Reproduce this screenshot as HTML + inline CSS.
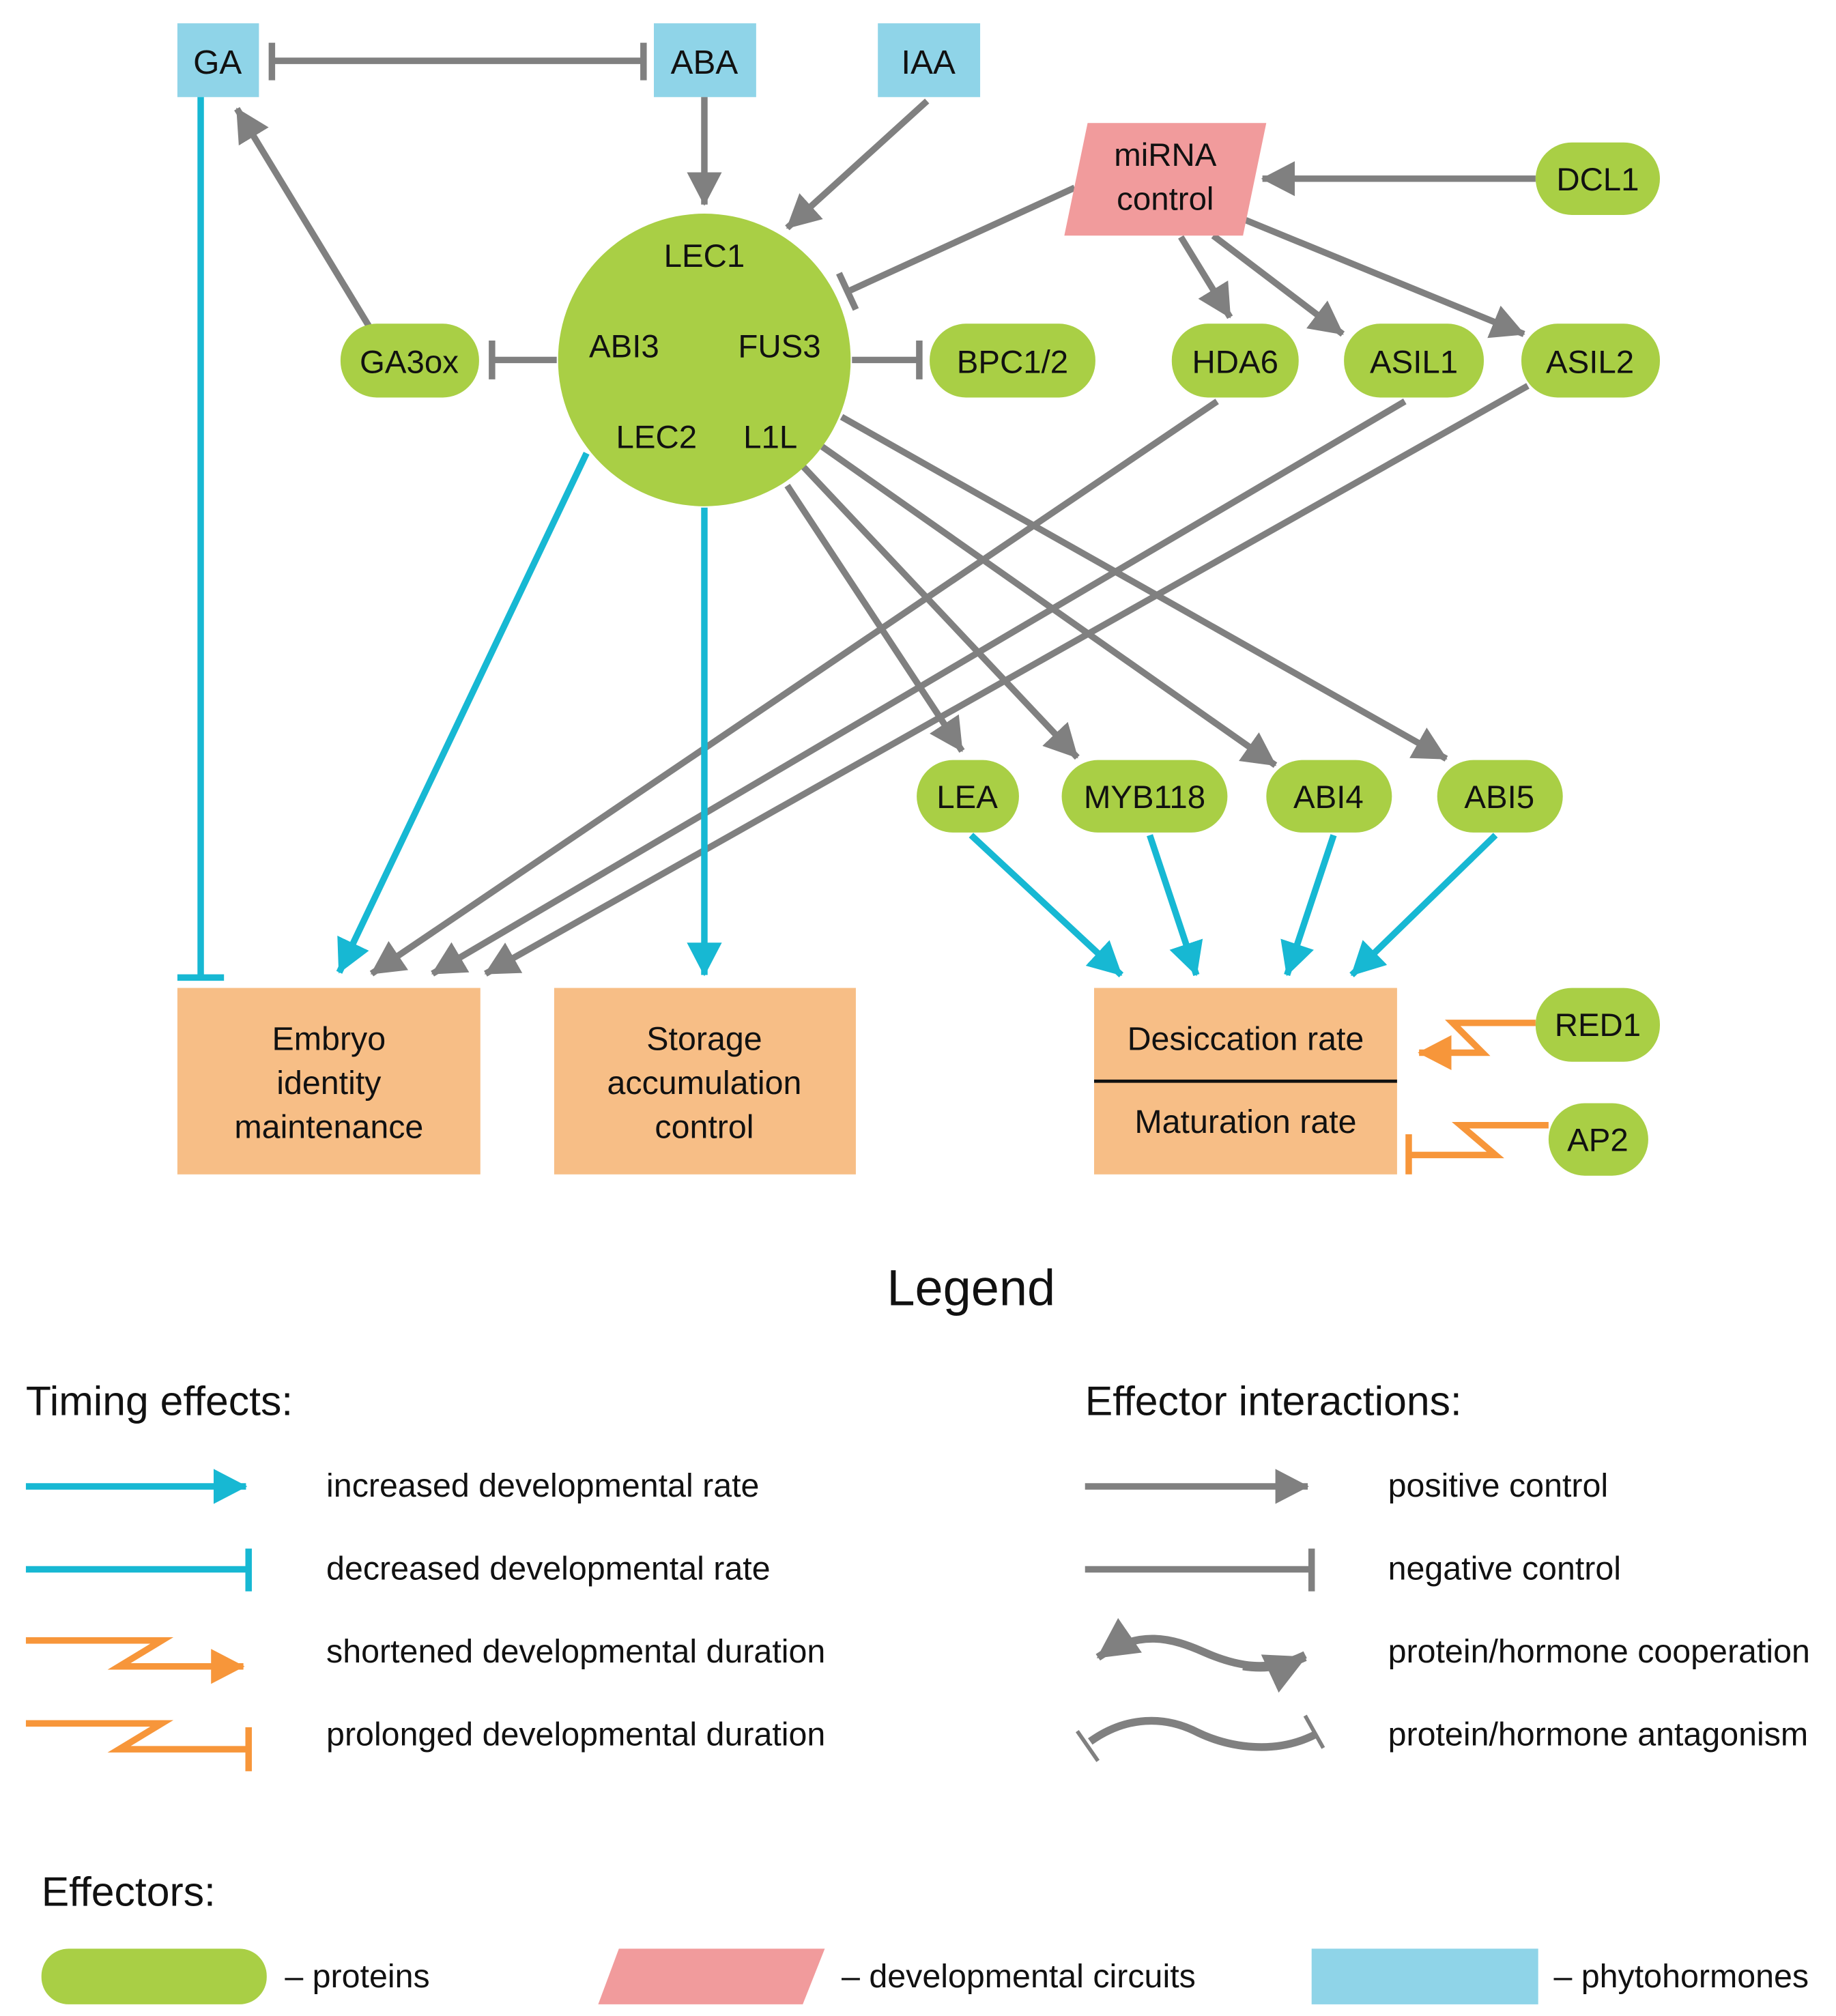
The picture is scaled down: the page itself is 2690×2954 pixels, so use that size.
<!DOCTYPE html>
<html><head><meta charset="utf-8"><style>
html,body{margin:0;padding:0;background:#fff;}
svg{display:block;}
text{font-family:"Liberation Sans",sans-serif;fill:#111;}
</style></head><body>
<svg width="2690" height="2954" viewBox="0 0 1418 1557" preserveAspectRatio="none" xmlns="http://www.w3.org/2000/svg">
<defs>
<marker id="ag" markerWidth="6" markerHeight="6" refX="5" refY="3" orient="auto" markerUnits="strokeWidth"><path d="M0,0.3 L5.2,3 L0,5.7 Z" fill="#808080"/></marker>
<marker id="ac" markerWidth="6" markerHeight="6" refX="5" refY="3" orient="auto" markerUnits="strokeWidth"><path d="M0,0.3 L5.2,3 L0,5.7 Z" fill="#17b8d3"/></marker>
<marker id="ao" markerWidth="6" markerHeight="6" refX="5" refY="3" orient="auto" markerUnits="strokeWidth"><path d="M0,0.3 L5.2,3 L0,5.7 Z" fill="#f7963a"/></marker>
</defs>

<rect x="137" y="18" width="63" height="57" fill="#8fd4e8"/>
<rect x="505" y="18" width="79" height="57" fill="#8fd4e8"/>
<rect x="678" y="18" width="79" height="57" fill="#8fd4e8"/>
<text x="168" y="57" font-size="26" text-anchor="middle">GA</text>
<text x="544" y="57" font-size="26" text-anchor="middle">ABA</text>
<text x="717" y="57" font-size="26" text-anchor="middle">IAA</text>

<g stroke="#808080" stroke-width="5" fill="none">
<line x1="210" y1="47" x2="497" y2="47"/>
<line x1="210" y1="33" x2="210" y2="62"/>
<line x1="497" y1="33" x2="497" y2="62"/>
<line x1="544" y1="75" x2="544" y2="158" marker-end="url(#ag)"/>
<line x1="716" y1="78" x2="608" y2="176" marker-end="url(#ag)"/>
<line x1="285" y1="252" x2="183" y2="84" marker-end="url(#ag)"/>
<line x1="380" y1="278" x2="430" y2="278"/>
<line x1="380" y1="263" x2="380" y2="293"/>
<line x1="658" y1="278" x2="710" y2="278"/>
<line x1="710" y1="263" x2="710" y2="293"/>
<line x1="1186" y1="138" x2="975" y2="138" marker-end="url(#ag)"/>
<line x1="830" y1="145" x2="655" y2="225"/>
<line x1="648" y1="211" x2="661" y2="239"/>
<line x1="912" y1="183" x2="950" y2="245" marker-end="url(#ag)"/>
<line x1="937" y1="182" x2="1037" y2="258" marker-end="url(#ag)"/>
<line x1="962" y1="170" x2="1177" y2="258" marker-end="url(#ag)"/>
<line x1="608" y1="375" x2="743" y2="580" marker-end="url(#ag)"/>
<line x1="620" y1="360" x2="832" y2="585" marker-end="url(#ag)"/>
<line x1="635" y1="345" x2="985" y2="591" marker-end="url(#ag)"/>
<line x1="650" y1="322" x2="1117" y2="586" marker-end="url(#ag)"/>
<line x1="940" y1="310" x2="287" y2="752" marker-end="url(#ag)"/>
<line x1="1085" y1="310" x2="334" y2="752" marker-end="url(#ag)"/>
<line x1="1180" y1="298" x2="375" y2="752" marker-end="url(#ag)"/>
</g>

<g stroke="#17b8d3" stroke-width="5" fill="none">
<line x1="155" y1="75" x2="155" y2="755"/>
<line x1="137" y1="755" x2="173" y2="755"/>
<line x1="453" y1="350" x2="262" y2="751" marker-end="url(#ac)"/>
<line x1="544" y1="392" x2="544" y2="753" marker-end="url(#ac)"/>
<line x1="750" y1="645" x2="866" y2="753" marker-end="url(#ac)"/>
<line x1="888" y1="645" x2="924" y2="753" marker-end="url(#ac)"/>
<line x1="1030" y1="645" x2="994" y2="753" marker-end="url(#ac)"/>
<line x1="1155" y1="645" x2="1044" y2="753" marker-end="url(#ac)"/>
</g>

<circle cx="544" cy="278" r="113" fill="#a9cf45"/>
<g font-size="25" text-anchor="middle">
<text x="544" y="206">LEC1</text>
<text x="482" y="276">ABI3</text>
<text x="602" y="276">FUS3</text>
<text x="507" y="346">LEC2</text>
<text x="595" y="346">L1L</text>
</g>

<polygon points="840,95 978,95 960,182 822,182" fill="#f19b9c"/>
<text x="900" y="128" font-size="25" text-anchor="middle">miRNA</text>
<text x="900" y="162" font-size="25" text-anchor="middle">control</text>

<g fill="#a9cf45">
<rect x="1186" y="110" width="96" height="56" rx="28"/>
<rect x="263" y="250" width="107" height="57" rx="28"/>
<rect x="718" y="250" width="128" height="57" rx="28"/>
<rect x="905" y="250" width="98" height="57" rx="28"/>
<rect x="1038" y="250" width="108" height="57" rx="28"/>
<rect x="1175" y="250" width="107" height="57" rx="28"/>
<rect x="708" y="587" width="79" height="56" rx="28"/>
<rect x="820" y="587" width="128" height="56" rx="28"/>
<rect x="978" y="587" width="97" height="56" rx="28"/>
<rect x="1110" y="587" width="97" height="56" rx="28"/>
<rect x="1186" y="763" width="96" height="57" rx="28"/>
<rect x="1196" y="852" width="77" height="56" rx="28"/>
</g>
<g font-size="25" text-anchor="middle">
<text x="1234" y="147">DCL1</text>
<text x="316" y="288">GA3ox</text>
<text x="782" y="288">BPC1/2</text>
<text x="954" y="288">HDA6</text>
<text x="1092" y="288">ASIL1</text>
<text x="1228" y="288">ASIL2</text>
<text x="747" y="624">LEA</text>
<text x="884" y="624">MYB118</text>
<text x="1026" y="624">ABI4</text>
<text x="1158" y="624">ABI5</text>
<text x="1234" y="800">RED1</text>
<text x="1234" y="889">AP2</text>
</g>

<g fill="#f7be86">
<rect x="137" y="763" width="234" height="144"/>
<rect x="428" y="763" width="233" height="144"/>
<rect x="845" y="763" width="234" height="144"/>
</g>
<line x1="845" y1="835" x2="1079" y2="835" stroke="#111" stroke-width="2.5"/>
<g font-size="25.5" text-anchor="middle">
<text x="254" y="811">Embryo</text>
<text x="254" y="845">identity</text>
<text x="254" y="879">maintenance</text>
<text x="544" y="811">Storage</text>
<text x="544" y="845">accumulation</text>
<text x="544" y="879">control</text>
<text x="962" y="811">Desiccation rate</text>
<text x="962" y="875">Maturation rate</text>
</g>

<g stroke="#f7963a" stroke-width="5" fill="none">
<path d="M1186,790 L1122,790 L1145,813 L1096,813" marker-end="url(#ao)"/>
<path d="M1196,869 L1128,869 L1155,892 L1088,892"/>
<line x1="1088" y1="876" x2="1088" y2="907"/>
</g>

<text x="750" y="1008" font-size="39" text-anchor="middle">Legend</text>
<text x="20" y="1093" font-size="32">Timing effects:</text>
<text x="838" y="1093" font-size="32">Effector interactions:</text>

<g stroke-width="5" fill="none">
<line x1="20" y1="1148" x2="190" y2="1148" stroke="#17b8d3" marker-end="url(#ac)"/>
<line x1="20" y1="1212" x2="192" y2="1212" stroke="#17b8d3"/>
<line x1="192" y1="1196" x2="192" y2="1229" stroke="#17b8d3"/>
<path d="M20,1267 L125,1267 L92,1287 L188,1287" stroke="#f7963a" marker-end="url(#ao)"/>
<path d="M20,1331 L125,1331 L92,1351 L192,1351" stroke="#f7963a"/>
<line x1="192" y1="1334" x2="192" y2="1368" stroke="#f7963a"/>
<line x1="838" y1="1148" x2="1010" y2="1148" stroke="#808080" marker-end="url(#ag)"/>
<line x1="838" y1="1212" x2="1013" y2="1212" stroke="#808080"/>
<line x1="1013" y1="1196" x2="1013" y2="1229" stroke="#808080"/>
<path d="M1008,1278 C980,1292 955,1287 930,1276 C905,1265 880,1258 848,1280" stroke="#808080" stroke-width="6" marker-end="url(#ag)"/>
<path d="M960,1287 C980,1290 995,1286 1008,1280" stroke="#808080" stroke-width="6" marker-end="url(#ag)"/>
<path d="M842,1345 C870,1325 900,1325 925,1338 C950,1350 985,1355 1015,1340" stroke="#808080" stroke-width="6"/>
<line x1="832" y1="1337" x2="848" y2="1360" stroke="#808080" stroke-width="3"/>
<line x1="1008" y1="1325" x2="1022" y2="1350" stroke="#808080" stroke-width="3"/>
</g>
<g font-size="25.5">
<text x="252" y="1156">increased developmental rate</text>
<text x="252" y="1220">decreased developmental rate</text>
<text x="252" y="1284">shortened developmental duration</text>
<text x="252" y="1348">prolonged developmental duration</text>
<text x="1072" y="1156">positive control</text>
<text x="1072" y="1220">negative control</text>
<text x="1072" y="1284">protein/hormone cooperation</text>
<text x="1072" y="1348">protein/hormone antagonism</text>
</g>

<text x="32" y="1472" font-size="32">Effectors:</text>
<rect x="32" y="1505" width="174" height="43" rx="21" fill="#a9cf45"/>
<polygon points="478,1505 637,1505 620,1548 462,1548" fill="#f19b9c"/>
<rect x="1013" y="1505" width="175" height="43" fill="#8fd4e8"/>
<g font-size="25.5">
<text x="220" y="1535">– proteins</text>
<text x="650" y="1535">– developmental circuits</text>
<text x="1200" y="1535">– phytohormones</text>
</g>
</svg>
</body></html>
